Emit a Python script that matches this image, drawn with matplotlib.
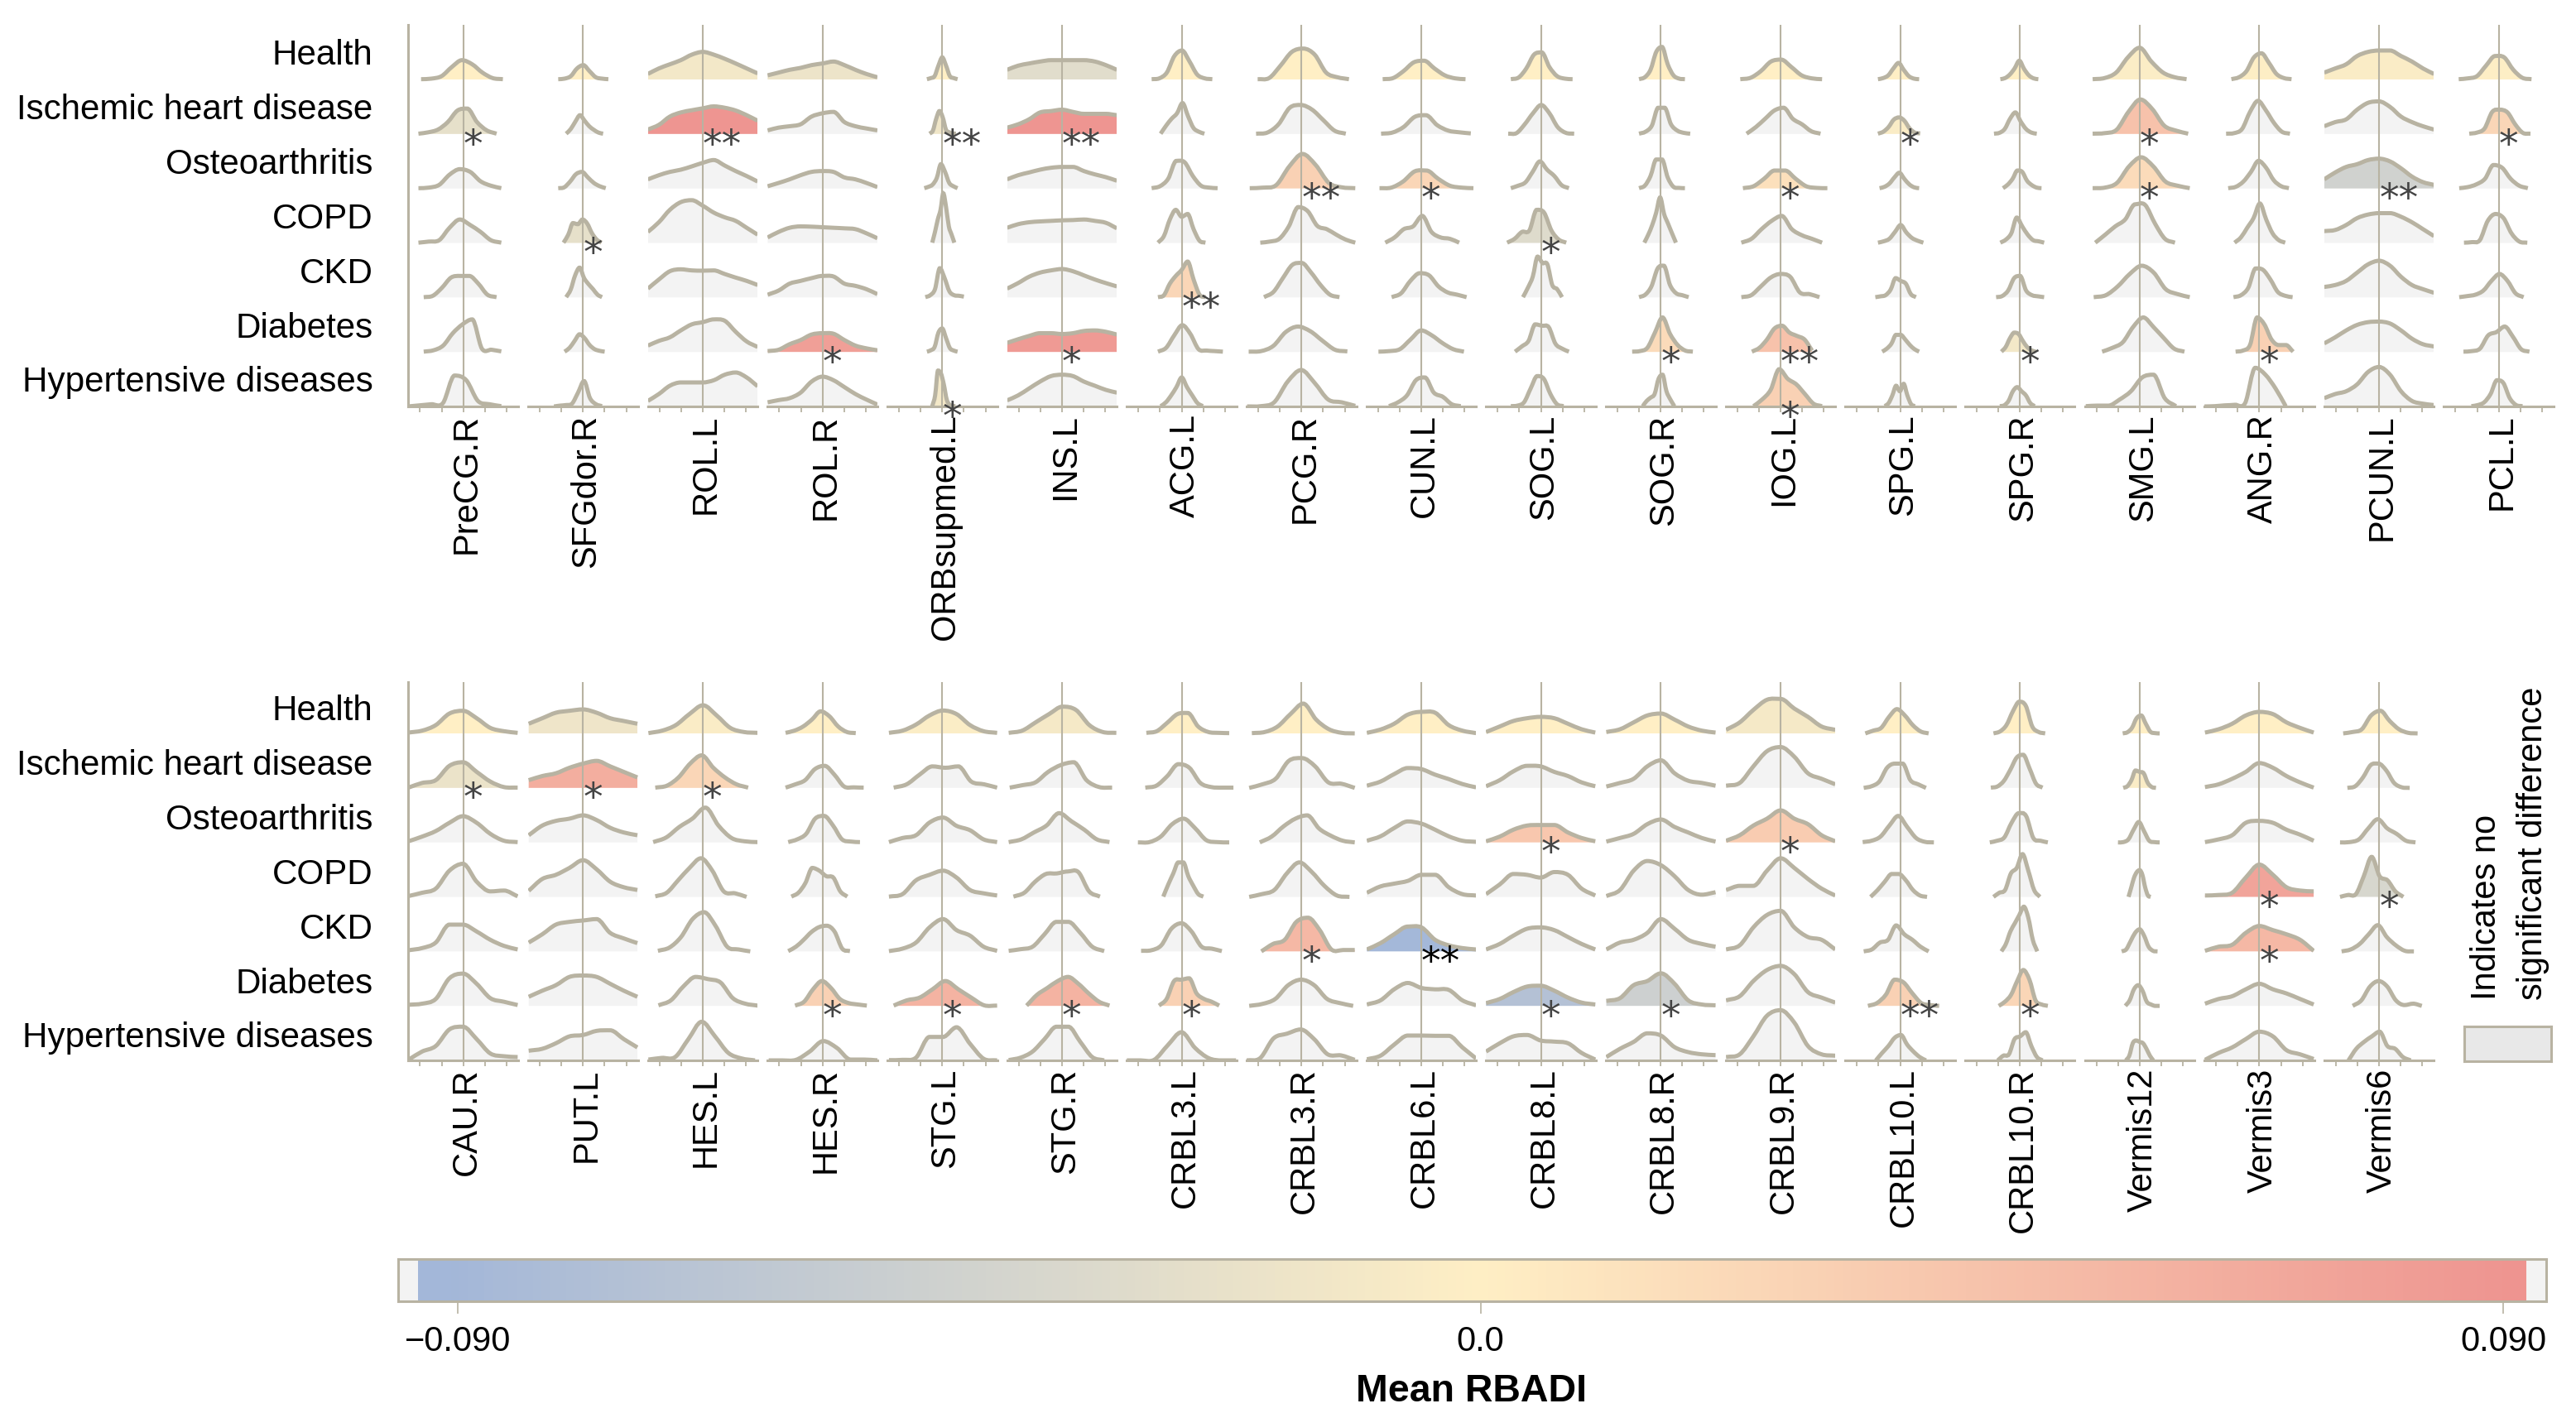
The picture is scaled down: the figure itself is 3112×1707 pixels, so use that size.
import matplotlib
matplotlib.use('Agg')
import matplotlib.pyplot as plt
import numpy as np
from matplotlib.colors import LinearSegmentedColormap
from matplotlib.patches import PathPatch
from matplotlib.path import Path
from matplotlib.transforms import ScaledTranslation

plt.rcParams['font.family'] = ['Liberation Sans', 'DejaVu Sans']

W, H = 3112, 1708
LINE = '#B8B3A2'
GREY = '#F3F3F3'

CONDITIONS = ['Health', 'Ischemic heart disease', 'Osteoarthritis', 'COPD', 'CKD', 'Diabetes',
              'Hypertensive diseases']

# curves per region: (x start, x end, density heights evenly spaced between), one per condition
PRECG_R = [(-80, 75, [1, 3, 12, 45, 70, 55, 25, 5, 1]), (-85, 63, [1, 6, 16, 43, 85, 92, 43, 13, 1]),
           (-85, 72, [1, 3, 13, 50, 70, 60, 26, 10, 1]), (-85, 72, [1, 5, 10, 55, 85, 65, 40, 10, 1]),
           (-75, 63, [1, 6, 35, 72, 78, 78, 50, 10, 1]), (-75, 72, [1, 6, 23, 68, 100, 118, 12, 8, 2]),
           (-105, 72, [0, 4, 8, 12, 112, 95, 20, 8, 1])]
SFGDOR_R = [(-47, 48, [1, 3, 12, 40, 52, 30, 8, 3, 1]), (-32, 38, [1, 18, 45, 68, 48, 28, 15, 5, 1]),
            (-47, 43, [1, 4, 25, 52, 60, 40, 20, 8, 1]), (-37, 35, [1, 30, 72, 68, 85, 70, 35, 12, 1]),
            (-32, 36, [1, 28, 80, 108, 70, 48, 30, 10, 1]), (-35, 41, [1, 15, 40, 64, 50, 25, 10, 4, 1]),
            (-55, 36, [0, 3, 5, 10, 50, 92, 30, 8, 1])]
ROL_L = [(-104, 104, [20, 40, 55, 70, 90, 100, 90, 75, 58, 40, 22]),
         (-104, 104, [16, 33, 63, 78, 86, 93, 100, 95, 85, 68, 48]),
         (-104, 104, [33, 48, 60, 68, 80, 93, 103, 83, 63, 45, 25]),
         (-104, 104, [40, 75, 120, 148, 155, 135, 110, 93, 80, 55, 30]),
         (-104, 104, [32, 65, 95, 102, 98, 97, 98, 85, 72, 60, 45]),
         (-104, 104, [23, 40, 53, 78, 100, 108, 118, 113, 73, 38, 18]),
         (-104, 104, [20, 45, 75, 87, 87, 87, 95, 115, 123, 105, 73])]
ROL_R = [(-104, 104, [15, 25, 35, 42, 52, 58, 65, 52, 35, 20, 8]),
         (-104, 104, [13, 23, 28, 35, 63, 75, 80, 43, 28, 20, 13]),
         (-104, 104, [8, 20, 33, 48, 60, 63, 60, 40, 33, 20, 5]),
         (-104, 104, [20, 40, 55, 60, 59, 57, 55, 53, 50, 35, 17]),
         (-104, 104, [10, 25, 50, 60, 70, 78, 76, 50, 42, 30, 12]),
         (-104, 104, [3, 8, 28, 43, 63, 68, 66, 43, 23, 13, 6]),
         (-104, 104, [15, 23, 30, 50, 90, 108, 95, 70, 45, 25, 7])]
ORBSUPMED_L = [(-29, 29, [1, 5, 12, 50, 80, 50, 12, 5, 1]), (-24, 26, [1, 12, 55, 83, 60, 15, 6, 2, 1]),
               (-34, 29, [1, 6, 14, 38, 88, 60, 20, 8, 1]), (-19, 23, [1, 40, 85, 120, 180, 130, 60, 30, 1]),
               (-32, 41, [1, 8, 30, 106, 70, 22, 8, 6, 3]), (-29, 29, [1, 6, 18, 70, 85, 50, 14, 5, 1]),
               (-19, 25, [1, 40, 130, 120, 80, 25, 6, 2, 1])]
INS_L = [(-104, 104, [35, 50, 58, 65, 70, 70, 70, 70, 65, 52, 35]),
         (-104, 104, [23, 35, 53, 78, 83, 88, 80, 73, 73, 73, 68]),
         (-104, 104, [33, 48, 58, 68, 75, 78, 78, 63, 51, 41, 28]),
         (-104, 104, [55, 68, 75, 78, 80, 82, 83, 85, 80, 73, 53]),
         (-104, 104, [32, 52, 75, 90, 98, 103, 95, 80, 65, 52, 40]),
         (-104, 104, [33, 46, 58, 68, 68, 65, 68, 76, 78, 73, 63]),
         (-104, 104, [22, 40, 65, 90, 110, 115, 110, 90, 75, 60, 50])]
ACG_L = [(-57, 58, [1, 4, 25, 85, 105, 65, 18, 4, 1]), (-40, 43, [1, 30, 55, 75, 112, 65, 22, 8, 1]),
         (-57, 68, [1, 8, 35, 100, 95, 45, 10, 3, 1]), (-45, 45, [1, 25, 85, 120, 95, 105, 50, 8, 1]),
         (-45, 45, [1, 8, 50, 78, 100, 130, 65, 10, 1]), (-45, 78, [1, 15, 60, 97, 65, 10, 5, 3, 1]),
         (-40, 40, [1, 15, 40, 70, 105, 70, 40, 12, 1])]
PCG_R = [(-83, 90, [1, 5, 50, 100, 112, 90, 25, 8, 1]), (-86, 84, [1, 5, 35, 95, 105, 88, 50, 12, 1]),
         (-98, 102, [1, 3, 12, 80, 125, 85, 20, 4, 1]), (-78, 102, [1, 5, 15, 60, 130, 115, 62, 50, 30, 12, 1]),
         (-71, 72, [1, 20, 70, 118, 125, 90, 45, 10, 1]), (-100, 87, [1, 3, 22, 72, 92, 75, 40, 8, 2]),
         (-103, 102, [0, 1, 15, 90, 132, 85, 25, 15, 2])]
CUN_L = [(-73, 84, [1, 5, 30, 62, 68, 40, 15, 4, 1]), (-76, 94, [1, 5, 25, 62, 68, 32, 12, 6, 2]),
         (-79, 99, [1, 3, 25, 62, 65, 35, 10, 3, 1]), (-68, 72, [1, 20, 50, 60, 98, 40, 20, 15, 1]),
         (-56, 86, [1, 15, 60, 88, 80, 40, 18, 10, 1]), (-81, 81, [1, 3, 10, 45, 78, 60, 32, 10, 1]),
         (-61, 75, [1, 15, 40, 95, 105, 50, 35, 8, 1])]
SOG_L = [(-57, 60, [1, 7, 40, 90, 98, 45, 12, 3, 1]), (-62, 63, [1, 3, 35, 75, 105, 75, 25, 4, 1]),
         (-57, 53, [1, 10, 22, 60, 98, 68, 45, 12, 1]), (-64, 48, [1, 15, 40, 45, 120, 110, 45, 12, 1]),
         (-34, 40, [1, 35, 75, 148, 125, 120, 45, 30, 1]), (-49, 53, [1, 20, 40, 100, 95, 90, 30, 12, 1]),
         (-57, 43, [1, 3, 15, 65, 110, 100, 45, 8, 1])]
SOG_R = [(-41, 46, [1, 8, 35, 100, 118, 55, 15, 3, 1]), (-41, 56, [1, 8, 30, 95, 95, 35, 12, 4, 1]),
         (-41, 46, [1, 10, 45, 105, 105, 40, 6, 2, 1]), (-31, 29, [1, 30, 65, 110, 165, 105, 70, 35, 1]),
         (-41, 53, [1, 10, 40, 105, 115, 45, 15, 8, 1]), (-54, 61, [1, 3, 15, 70, 125, 65, 25, 5, 1]),
         (-34, 26, [1, 20, 32, 45, 100, 115, 55, 25, 1])]
IOG_L = [(-76, 79, [1, 6, 30, 65, 72, 45, 15, 4, 1]), (-64, 76, [1, 25, 55, 85, 95, 55, 35, 10, 1]),
         (-71, 89, [1, 8, 35, 65, 65, 35, 8, 2, 1]), (-74, 79, [1, 15, 50, 80, 98, 50, 28, 15, 1]),
         (-74, 74, [1, 8, 40, 72, 85, 75, 18, 12, 1]), (-54, 60, [1, 15, 45, 85, 95, 70, 58, 45, 5]),
         (-51, 79, [1, 25, 60, 135, 100, 80, 45, 10, 1])]
SPG_L = [(-42, 36, [1, 5, 15, 40, 60, 35, 12, 3, 1]), (-42, 38, [1, 8, 25, 52, 60, 48, 20, 5, 2]),
         (-39, 36, [1, 6, 18, 40, 57, 35, 15, 4, 1]), (-42, 44, [1, 6, 15, 40, 65, 38, 18, 8, 1]),
         (-47, 30, [1, 4, 8, 28, 70, 60, 50, 12, 1]), (-34, 36, [1, 12, 30, 62, 62, 45, 25, 10, 1]),
         (-29, 28, [1, 12, 40, 75, 55, 82, 40, 8, 1])]
SPG_R = [(-37, 35, [1, 5, 18, 40, 68, 38, 15, 4, 1]), (-49, 32, [1, 4, 18, 55, 78, 45, 18, 5, 1]),
         (-32, 41, [1, 14, 35, 65, 60, 28, 12, 3, 1]), (-37, 46, [1, 12, 35, 92, 60, 30, 10, 6, 1]),
         (-45, 46, [1, 5, 25, 70, 78, 25, 8, 4, 1]), (-35, 30, [1, 18, 50, 70, 65, 40, 18, 6, 1]),
         (-38, 28, [1, 4, 20, 55, 70, 55, 40, 12, 1])]
SMG_L = [(-89, 89, [1, 5, 25, 80, 115, 65, 25, 8, 1]), (-89, 92, [1, 3, 15, 80, 125, 90, 30, 12, 1]),
         (-89, 95, [1, 3, 20, 80, 113, 80, 25, 10, 1]), (-84, 67, [1, 30, 60, 85, 140, 138, 70, 15, 1]),
         (-87, 95, [1, 8, 40, 85, 115, 90, 30, 12, 1]), (-71, 85, [1, 15, 35, 90, 125, 90, 50, 12, 1]),
         (-102, 69, [1, 3, 3, 25, 55, 105, 115, 30, 1])]
ANG_R = [(-53, 61, [1, 8, 30, 80, 95, 60, 20, 5, 1]), (-63, 58, [1, 3, 18, 80, 120, 85, 40, 8, 1]),
         (-59, 56, [1, 6, 25, 60, 100, 75, 30, 8, 1]), (-47, 49, [1, 20, 55, 90, 143, 85, 35, 10, 1]),
         (-49, 63, [1, 8, 35, 105, 100, 65, 20, 6, 1]), (-45, 64, [1, 5, 25, 125, 100, 45, 25, 25, 1]),
         (-104, 50, [0, 1, 4, 6, 12, 140, 115, 65, 1])]
PCUN_L = [(-104, 104, [25, 40, 55, 85, 100, 105, 105, 85, 65, 40, 20]),
          (-104, 104, [28, 43, 53, 88, 113, 118, 98, 63, 43, 28, 16]),
          (-104, 104, [33, 58, 78, 88, 103, 108, 98, 73, 43, 23, 13]),
          (-104, 104, [43, 47, 65, 90, 103, 108, 108, 95, 75, 50, 25]),
          (-104, 104, [38, 45, 60, 90, 120, 133, 115, 75, 45, 30, 17]),
          (-104, 104, [31, 53, 78, 98, 108, 110, 103, 78, 48, 28, 20]),
          (-104, 104, [30, 45, 55, 80, 125, 143, 115, 55, 20, 10, 5])]
PCL_L = [(-76, 62, [1, 4, 12, 50, 85, 80, 35, 6, 1]), (-56, 60, [1, 5, 20, 80, 88, 78, 35, 4, 1]),
         (-75, 55, [1, 5, 15, 35, 85, 75, 35, 10, 1]), (-66, 54, [1, 3, 10, 80, 105, 90, 35, 5, 1]),
         (-75, 47, [1, 5, 10, 25, 60, 85, 60, 15, 1]), (-67, 58, [1, 3, 12, 60, 72, 92, 55, 10, 1]),
         (-52, 45, [1, 5, 15, 45, 95, 85, 30, 5, 1])]

CAU_R = [(-104, 103, [3, 10, 30, 72, 82, 55, 20, 8, 2]), (-104, 103, [1, 18, 28, 80, 93, 58, 23, 3, 1]),
         (-104, 103, [4, 21, 41, 71, 95, 71, 31, 6, 1]), (-104, 103, [3, 15, 30, 95, 120, 55, 20, 23, 2]),
         (-104, 103, [4, 12, 32, 97, 97, 72, 42, 20, 7]), (-104, 103, [4, 8, 25, 100, 117, 80, 28, 15, 3]),
         (-104, 103, [2, 32, 52, 112, 122, 77, 25, 15, 12])]
PUT_L = [(-103, 103, [35, 55, 75, 82, 87, 75, 55, 45, 35]), (-103, 103, [28, 43, 53, 73, 88, 98, 78, 58, 38]),
         (-103, 103, [26, 61, 78, 86, 98, 81, 53, 36, 26]), (-103, 103, [22, 65, 80, 105, 133, 100, 55, 35, 25]),
         (-103, 103, [32, 62, 97, 107, 112, 117, 67, 47, 30]), (-103, 103, [33, 55, 75, 105, 110, 105, 80, 55, 33]),
         (-103, 103, [35, 42, 62, 87, 92, 107, 109, 77, 47])]
HES_L = [(-103, 104, [1, 10, 30, 70, 102, 65, 20, 5, 2]), (-90, 86, [1, 8, 38, 88, 118, 73, 38, 13, 1]),
         (-94, 104, [1, 18, 56, 86, 126, 61, 16, 4, 1]), (-90, 83, [2, 15, 60, 105, 140, 95, 20, 13, 0]),
         (-85, 90, [2, 14, 52, 117, 142, 92, 17, 7, 0]), (-84, 104, [2, 20, 70, 105, 97, 85, 28, 8, 1]),
         (-103, 99, [3, 9, 12, 77, 140, 87, 27, 7, 0])]
HES_R = [(-70, 63, [2, 10, 25, 50, 80, 62, 25, 5, 1]), (-70, 78, [1, 13, 28, 68, 80, 48, 5, 2, 1]),
         (-65, 71, [1, 11, 31, 86, 96, 61, 11, 3, 1]), (-59, 47, [1, 15, 50, 105, 95, 75, 70, 20, 1]),
         (-65, 52, [1, 17, 42, 70, 88, 93, 72, 10, 1]), (-52, 84, [1, 15, 60, 90, 65, 25, 10, 5, 1]),
         (-102, 105, [0, 0, 2, 32, 70, 45, 3, 3, 0])]
STG_L = [(-101, 104, [2, 10, 32, 65, 83, 70, 30, 8, 2]), (-92, 104, [1, 13, 48, 78, 73, 78, 23, 13, 1]),
         (-101, 104, [1, 16, 26, 72, 90, 60, 44, 11, 1]), (-101, 104, [1, 10, 60, 80, 95, 70, 25, 13, 5]),
         (-101, 104, [1, 10, 32, 87, 117, 77, 57, 17, 2]), (-92, 104, [1, 20, 30, 60, 90, 60, 30, 2, 1]),
         (-101, 104, [1, 2, 10, 85, 85, 120, 60, 6, 0])]
STG_R = [(-101, 103, [2, 10, 40, 70, 97, 85, 30, 5, 2]), (-99, 95, [1, 10, 20, 58, 83, 93, 28, 3, 1]),
         (-101, 90, [1, 11, 36, 61, 106, 76, 46, 11, 1]), (-92, 72, [1, 15, 55, 83, 85, 92, 90, 20, 1]),
         (-101, 80, [2, 8, 17, 62, 107, 107, 67, 17, 1]), (-67, 90, [1, 40, 65, 90, 105, 80, 45, 15, 1]),
         (-101, 80, [1, 10, 32, 77, 122, 122, 67, 12, 0])]
CRBL3_L = [(-67, 90, [2, 8, 38, 70, 74, 25, 5, 2, 1]), (-69, 98, [1, 8, 43, 86, 73, 18, 3, 1, 1]),
           (-83, 90, [0, 1, 21, 66, 86, 52, 8, 1, 0]), (-35, 41, [1, 45, 85, 125, 125, 75, 40, 10, 1]),
           (-77, 76, [2, 4, 22, 82, 102, 72, 17, 10, 1]), (-43, 71, [1, 25, 90, 95, 100, 45, 25, 15, 1]),
           (-104, 103, [0, 0, 2, 55, 102, 45, 8, 0, 0])]
CRBL3_R = [(-94, 101, [1, 5, 25, 70, 108, 50, 15, 2, 0]), (-99, 101, [0, 13, 33, 98, 108, 78, 20, 15, 0]),
           (-79, 101, [0, 21, 58, 86, 98, 50, 24, 6, 0]), (-99, 91, [0, 10, 25, 85, 125, 90, 40, 5, 0]),
           (-76, 101, [0, 27, 42, 107, 122, 77, 7, 5, 5]), (-99, 98, [0, 7, 25, 75, 95, 75, 25, 10, 0]),
           (-104, 101, [0, 8, 80, 97, 112, 77, 22, 18, 2])]
CRBL6_L = [(-103, 104, [2, 14, 35, 68, 78, 75, 30, 10, 1]), (-103, 104, [8, 23, 50, 72, 68, 48, 32, 14, 2]),
           (-103, 104, [6, 22, 52, 76, 68, 46, 22, 6, 2]), (-103, 104, [15, 38, 48, 58, 80, 80, 35, 10, 5]),
           (-103, 104, [7, 30, 62, 90, 87, 42, 22, 12, 7]), (-103, 104, [5, 20, 60, 83, 65, 60, 58, 20, 2]),
           (-103, 104, [4, 17, 57, 90, 90, 89, 89, 47, 7])]
CRBL8_L = [(-104, 103, [5, 25, 45, 55, 60, 55, 35, 15, 3]), (-104, 103, [6, 28, 60, 80, 78, 58, 43, 20, 6]),
           (-104, 103, [4, 21, 46, 61, 63, 63, 36, 16, 4]), (-104, 103, [10, 45, 83, 80, 70, 90, 80, 30, 5]),
           (-104, 103, [7, 27, 57, 82, 87, 77, 52, 27, 7]), (-104, 103, [10, 25, 50, 70, 73, 55, 30, 12, 5]),
           (-104, 103, [32, 62, 87, 92, 72, 68, 62, 27, 3])]
CRBL8_R = [(-103, 104, [5, 15, 40, 65, 72, 50, 25, 10, 3]), (-103, 104, [5, 18, 33, 78, 100, 53, 26, 18, 8]),
           (-103, 104, [3, 16, 31, 66, 83, 56, 36, 16, 3]), (-103, 104, [3, 25, 95, 130, 115, 75, 25, 8, 17]),
           (-103, 104, [7, 32, 42, 67, 117, 82, 42, 27, 17]), (-103, 104, [18, 28, 75, 90, 118, 80, 20, 5, 2]),
           (-103, 104, [12, 42, 67, 98, 90, 48, 30, 22, 19])]
CRBL9_R = [(-103, 104, [13, 40, 85, 122, 125, 90, 60, 25, 13]), (-103, 104, [8, 18, 78, 133, 148, 113, 53, 33, 13]),
           (-103, 104, [6, 26, 61, 86, 116, 86, 66, 26, 4]), (-103, 104, [25, 40, 40, 95, 140, 105, 65, 30, 5]),
           (-103, 104, [7, 22, 87, 132, 147, 87, 52, 42, 7]), (-103, 104, [20, 35, 90, 130, 145, 115, 50, 30, 12]),
           (-103, 104, [12, 22, 87, 162, 182, 137, 52, 22, 17])]
CRBL10_L = [(-66, 54, [0, 10, 20, 60, 88, 65, 30, 7, 0]), (-69, 49, [0, 6, 23, 73, 88, 88, 28, 13, 0]),
            (-71, 64, [1, 6, 21, 61, 96, 56, 16, 2, 0]), (-56, 51, [0, 25, 55, 83, 83, 60, 25, 5, 0]),
            (-69, 54, [0, 7, 32, 42, 94, 62, 42, 17, 0]), (-61, 74, [0, 10, 40, 95, 85, 45, 10, 3, 0]),
            (-46, 49, [0, 27, 52, 82, 92, 57, 32, 12, 0])]
CRBL10_R = [(-50, 48, [0, 7, 30, 80, 115, 100, 25, 5, 0]), (-55, 43, [1, 5, 25, 65, 110, 120, 70, 15, 1]),
            (-57, 53, [0, 6, 18, 71, 106, 96, 16, 6, 0]), (-50, 38, [0, 15, 25, 85, 105, 155, 95, 25, 0]),
            (-35, 33, [0, 27, 72, 102, 132, 162, 122, 42, 0]), (-40, 53, [0, 15, 40, 90, 130, 95, 20, 5, 0]),
            (-42, 43, [0, 17, 22, 77, 87, 102, 52, 12, 0])]
VERMIS12 = [(-32, 38, [0, 4, 20, 55, 65, 35, 6, 1, 0]), (-31, 31, [0, 6, 28, 63, 58, 53, 18, 3, 0]),
            (-41, 38, [0, 1, 11, 46, 74, 41, 6, 1, 0]), (-21, 21, [0, 35, 70, 90, 97, 80, 35, 5, 0]),
            (-34, 34, [0, 7, 37, 67, 80, 57, 17, 2, 0]), (-27, 38, [0, 20, 60, 75, 55, 15, 5, 0, 0]),
            (-26, 26, [0, 17, 62, 72, 67, 62, 42, 17, 0])]
VERMIS3 = [(-103, 103, [3, 15, 35, 65, 78, 70, 40, 20, 3]), (-103, 103, [3, 13, 33, 58, 90, 73, 43, 20, 1]),
           (-103, 103, [1, 11, 26, 71, 78, 71, 46, 28, 6]), (-103, 103, [5, 7, 15, 70, 117, 80, 35, 23, 20]),
           (-103, 103, [2, 17, 24, 67, 92, 77, 62, 42, 2]), (-103, 103, [8, 25, 35, 60, 80, 60, 45, 25, 5]),
           (-103, 103, [2, 27, 47, 77, 104, 87, 37, 22, 5])]
VERMIS6 = [(-68, 73, [0, 5, 15, 65, 82, 45, 15, 2, 0]), (-60, 58, [0, 6, 38, 83, 88, 63, 18, 2, 0]),
           (-74, 69, [0, 1, 11, 51, 84, 51, 31, 6, 0]), (-74, 46, [0, 7, 10, 75, 145, 75, 60, 20, 0]),
           (-71, 66, [0, 7, 27, 62, 95, 52, 22, 2, 0]), (-50, 81, [0, 20, 70, 90, 70, 20, 3, 8, 0]),
           (-58, 60, [0, 42, 67, 87, 104, 52, 42, 12, 0])]

TOP_NAMES = ['PreCG.R', 'SFGdor.R', 'ROL.L', 'ROL.R', 'ORBsupmed.L', 'INS.L', 'ACG.L', 'PCG.R', 'CUN.L',
             'SOG.L', 'SOG.R', 'IOG.L', 'SPG.L', 'SPG.R', 'SMG.L', 'ANG.R', 'PCUN.L', 'PCL.L']
TOP_CURVES = [PRECG_R, SFGDOR_R, ROL_L, ROL_R, ORBSUPMED_L, INS_L, ACG_L, PCG_R, CUN_L,
              SOG_L, SOG_R, IOG_L, SPG_L, SPG_R, SMG_L, ANG_R, PCUN_L, PCL_L]
BOTTOM_NAMES = ['CAU.R', 'PUT.L', 'HES.L', 'HES.R', 'STG.L', 'STG.R', 'CRBL3.L', 'CRBL3.R', 'CRBL6.L',
                'CRBL8.L', 'CRBL8.R', 'CRBL9.R', 'CRBL10.L', 'CRBL10.R', 'Vermis12', 'Vermis3', 'Vermis6']
BOTTOM_CURVES = [CAU_R, PUT_L, HES_L, HES_R, STG_L, STG_R, CRBL3_L, CRBL3_R, CRBL6_L,
                 CRBL8_L, CRBL8_R, CRBL9_R, CRBL10_L, CRBL10_R, VERMIS12, VERMIS3, VERMIS6]

# mean RBADI for the coloured ridges, row index -> value; anything missing is grey
TOP_MEANS = [{0: 0.0, 1: -0.025}, {0: 0.0, 3: -0.025}, {0: -0.012, 1: 0.09}, {0: -0.018, 5: 0.08},
             {0: 0.0, 1: -0.015, 6: -0.012}, {0: -0.03, 1: 0.09, 5: 0.085}, {0: 0.0, 4: 0.025},
             {0: 0.0, 2: 0.03}, {0: 0.0, 2: 0.025}, {0: 0.0, 3: -0.033}, {0: 0.0, 5: 0.02},
             {0: 0.0, 2: 0.015, 5: 0.045, 6: 0.03}, {0: 0.0, 1: -0.005}, {0: 0.0, 5: -0.012},
             {0: -0.004, 1: 0.045, 2: 0.02}, {0: -0.002, 5: 0.03}, {0: -0.005, 2: -0.047},
             {0: -0.002, 1: 0.025}]
BOTTOM_MEANS = [{0: 0.0, 1: -0.02}, {0: -0.016, 1: 0.065}, {0: -0.005, 1: 0.025}, {0: 0.0, 5: 0.03},
                {0: -0.004, 5: 0.06}, {0: -0.01, 5: 0.06}, {0: 0.0, 5: 0.03}, {0: 0.0, 4: 0.055},
                {0: 0.0, 4: -0.09}, {0: 0.0, 2: 0.04, 5: -0.075}, {0: 0.0, 5: -0.05},
                {0: -0.01, 2: 0.035}, {0: 0.0, 5: 0.03}, {0: 0.0, 5: 0.025}, {0: 0.0, 1: -0.005},
                {0: 0.0, 3: 0.075, 4: 0.055}, {0: 0.0, 3: -0.04}]
TOP_STARS = [{1: '*'}, {3: '*'}, {1: '**'}, {5: '*'}, {1: '**', 6: '*'}, {1: '**', 5: '*'}, {4: '**'},
             {2: '**'}, {2: '*'}, {3: '*'}, {5: '*'}, {2: '*', 5: '**', 6: '*'}, {1: '*'}, {5: '*'},
             {1: '*', 2: '*'}, {5: '*'}, {2: '**'}, {1: '*'}]
BOTTOM_STARS = [{1: '*'}, {1: '*'}, {1: '*'}, {5: '*'}, {5: '*'}, {5: '*'}, {5: '*'}, {4: '*'}, {4: '**'},
                {2: '*', 5: '*'}, {5: '*'}, {2: '*'}, {5: '**'}, {5: '*'}, {}, {3: '*', 4: '*'}, {3: '*'}]

CBAR_TICKS = [-0.09, 0.0, 0.09]
CBAR_LABELS = ['\u22120.090', '0.0', '0.090']

cmap = LinearSegmentedColormap.from_list('rbadi', ['#A3B7D9', '#FFEFC5', '#EE9490'])
VMAX = 0.092
ROW = 197.5  # one ridge row in density units


def px_axes(fig, x0, y0, x1, y1):
    return fig.add_axes([x0 / W, 1 - y1 / H, (x1 - x0) / W, (y1 - y0) / H], facecolor='none')


def ridge_path(x, y):
    # bezier through the read points, flat at the local peaks so nothing overshoots
    slope = np.gradient(y, x)
    d = np.diff(y)
    slope[1:-1][d[:-1] * d[1:] <= 0] = 0
    h = (x[1] - x[0]) / 3
    verts = [(x[0], y[0])]
    codes = [Path.MOVETO]
    for k in range(len(x) - 1):
        verts += [(x[k] + h, y[k] + slope[k] * h), (x[k + 1] - h, y[k + 1] - slope[k + 1] * h), (x[k + 1], y[k + 1])]
        codes += [Path.CURVE4] * 3
    return verts, codes


def draw_row(fig, names, curves, means, stars, top, bottom, label_shift):
    for i, name in enumerate(names):
        cx = 559.7 + 144.65 * i
        ax = px_axes(fig, cx - 66.3, top, cx + 66.3, bottom)
        ax.set_xlim(-104, 104)
        ax.set_ylim(0, (bottom - top) * 3)
        for r, (x0, x1, heights) in enumerate(curves[i]):
            base = (6 - r) * ROW
            x = np.linspace(x0, x1, len(heights))
            y = base + np.array(heights, dtype=float)
            if r in means[i]:
                colour = cmap((means[i][r] + VMAX) / (2 * VMAX))
            else:
                colour = GREY
            verts, codes = ridge_path(x, y)
            fill_verts = verts + [(x[-1], base), (x[0], base), verts[0]]
            fill_codes = codes + [Path.LINETO, Path.LINETO, Path.CLOSEPOLY]
            ax.add_patch(PathPatch(Path(fill_verts, fill_codes), fc=colour, ec='none', lw=0, zorder=1))
            ax.add_patch(PathPatch(Path(verts, codes), fc='none', ec=LINE, lw=3.6, zorder=2))
            if r in stars[i]:
                dark = '#000000' if means[i].get(r, 0) <= -0.08 else '#444444'
                ax.text(0, base - 77, stars[i][r], family='DejaVu Sans', fontsize=34, color=dark,
                        ha='left', va='baseline', zorder=5, clip_on=False)
        ax.axvline(0, color=LINE, lw=1.5, zorder=3)
        for s in ['top', 'right', 'left']:
            ax.spines[s].set_visible(False)
        ax.spines['bottom'].set_color(LINE)
        ax.spines['bottom'].set_linewidth(2.2)
        ax.set_xticks([-82, -41, 0, 41, 82])
        ax.set_xticklabels(['', '', name, '', ''], rotation=90, fontsize=30, color='black')
        ax.tick_params(axis='x', length=5, width=1.3, color=LINE, pad=1)
        for lab in ax.get_xticklabels():
            lab.set_transform(lab.get_transform() + ScaledTranslation(4 / 100, 0, fig.dpi_scale_trans))
        if i == 0:
            ax.spines['left'].set_visible(True)
            ax.spines['left'].set_color(LINE)
            ax.spines['left'].set_linewidth(2.2)
            ax.set_yticks([(6 - r) * ROW + label_shift for r in range(7)])
            ax.set_yticklabels(CONDITIONS, fontsize=30.3, color='black')
            ax.tick_params(axis='y', length=0, pad=31)
        else:
            ax.set_yticks([])


fig = plt.figure(figsize=(W / 100, H / 100), dpi=100)

draw_row(fig, TOP_NAMES, TOP_CURVES, TOP_MEANS, TOP_STARS, 31, 492, 102)
draw_row(fig, BOTTOM_NAMES, BOTTOM_CURVES, BOTTOM_MEANS, BOTTOM_STARS, 825, 1282, 96)

# colour bar, 0 sits at x=1788.5 and 0.09 spans 1235.5 px
PX_PER_UNIT = 1235.5 / 0.09
cax = px_axes(fig, 481, 1522, 3076, 1573)
cax.set_facecolor(GREY)
cax.set_xlim((481 - 1788.5) / PX_PER_UNIT, (3076 - 1788.5) / PX_PER_UNIT)
cax.set_ylim(0, 1)
grad = np.linspace(-0.0935, 0.092, 256).reshape(1, -1)
cax.imshow(grad, extent=[-0.0935, 0.092, 0, 1], aspect='auto', cmap=cmap, vmin=-VMAX, vmax=VMAX)
cax.set_yticks([])
cax.set_xticks(CBAR_TICKS)
cax.set_xticklabels(CBAR_LABELS, fontsize=30)
cax.tick_params(axis='x', length=11, width=1.2, color=LINE, pad=9)
for s in cax.spines.values():
    s.set_color(LINE)
    s.set_linewidth(2.2)
fig.text(1778 / W, 1 - 1681 / H, 'Mean RBADI', fontsize=33.5, fontweight='bold', ha='center', va='center')

# legend for the grey ridges
lax = px_axes(fig, 2977, 1241, 3082, 1283)
lax.set_facecolor('#E8E8E8')
lax.set_xticks([])
lax.set_yticks([])
for s in lax.spines.values():
    s.set_color(LINE)
    s.set_linewidth(2.2)
fig.text(3004 / W, 1 - 1208 / H, 'Indicates no', rotation=90, fontsize=30, ha='center', va='bottom')
fig.text(3060 / W, 1 - 1208 / H, 'significant difference', rotation=90, fontsize=30, ha='center', va='bottom')

plt.savefig('out.png', dpi=100)
